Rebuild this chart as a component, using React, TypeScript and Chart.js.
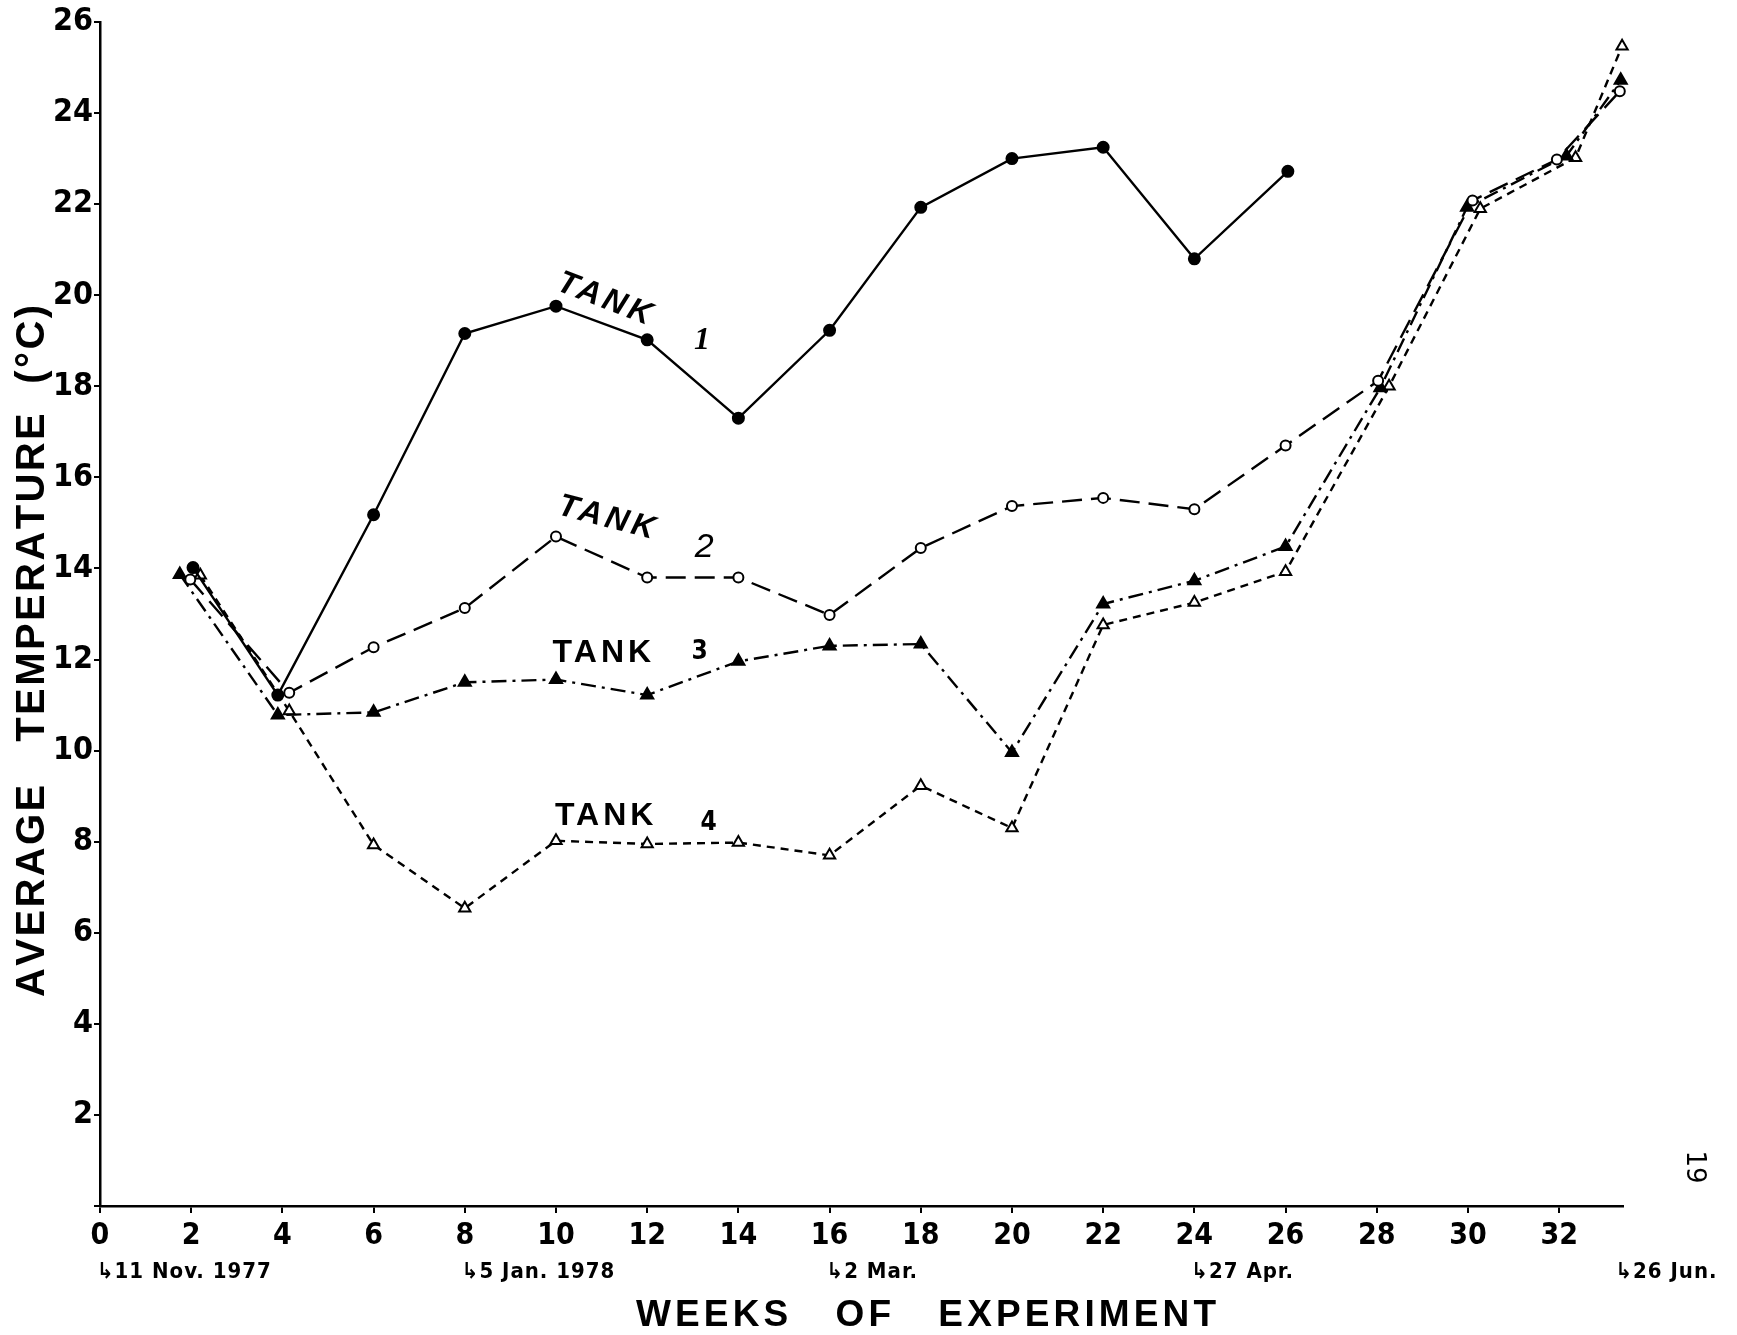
import { useEffect, useRef } from "react";
import { Chart, registerables } from "chart.js";

Chart.register(...registerables);

// Average water temperature (°C) per tank, by week of the experiment
const tank1Weeks = [2.04, 3.9, 6, 8, 10, 12, 14, 16, 18, 20, 22, 24, 26.05];
const tank1Temps = [14.02, 11.22, 15.18, 19.16, 19.76, 19.02, 17.3, 19.23, 21.93, 23.0, 23.25, 20.8, 22.72];

const tank2Weeks = [1.98, 4.15, 6, 8, 10, 12, 14, 16, 18, 20, 22, 24, 26, 28.03, 30.1, 31.95, 33.33];
const tank2Temps = [13.76, 11.27, 12.27, 13.13, 14.7, 13.8, 13.8, 12.98, 14.45, 15.37, 15.55, 15.3, 16.7, 18.12, 22.08, 22.98, 24.48];

const tank3Weeks = [1.75, 3.9, 6, 8, 10, 12, 14, 16, 18, 20, 22, 24, 26, 28.08, 29.98, 32.16, 33.35];
const tank3Temps = [13.87, 10.78, 10.84, 11.5, 11.56, 11.22, 11.96, 12.3, 12.34, 9.96, 13.22, 13.73, 14.48, 17.97, 21.93, 23.06, 24.72];

const tank4Weeks = [2.2, 4.15, 6, 8, 10, 12, 14, 16, 18, 20, 22, 24, 26, 28.27, 30.27, 32.36, 33.38];
const tank4Temps = [13.85, 10.87, 7.93, 6.54, 8.02, 7.95, 7.98, 7.7, 9.23, 8.3, 12.76, 13.25, 13.93, 18.0, 21.9, 23.02, 25.47];

// Axis ticks
const weekTicks = [0, 2, 4, 6, 8, 10, 12, 14, 16, 18, 20, 22, 24, 26, 28, 30, 32];
const weekMax = 33.4;
const tempMax = 26;
const tempStep = 2;

// Calendar dates under the week axis
const dateWeeks = [0, 8, 16, 24, 33.3];
const dateTexts = ["↳11 Nov. 1977", "↳5 Jan. 1978", "↳2 Mar.", "↳27 Apr.", "↳26 Jun."];

// Curve labels: [week, temp] anchor of the word, and of the tank number
const tankNames = ["1", "2", "3", "4"];
const tankWordAt = [[11.1, 19.9], [11.15, 15.1], [11.05, 12.15], [11.1, 8.55]];
const tankNumAt = [[13.2, 19.0], [13.25, 14.45], [13.15, 12.15], [13.35, 8.4]];
const tankAngles = [21, 14.5, 0, 0];

const W = 1737;
const H = 1335;

const narrowFamily = "'Liberation Sans Narrow', 'DejaVu Sans Condensed', 'Roboto Condensed', 'Liberation Sans', sans-serif";

const toXY = (xs: number[], ys: number[]) => xs.map((x, i) => ({ x, y: ys[i] }));

function drawFitted(ctx: CanvasRenderingContext2D, text: string, cx: number, cy: number, width: number) {
  const chars = [...text];
  const ws = chars.map((c) => ctx.measureText(c).width);
  const sum = ws.reduce((a, b) => a + b, 0);
  const gap = chars.length > 1 ? (width - sum) / (chars.length - 1) : 0;
  let x = cx - width / 2;
  ctx.textAlign = "left";
  chars.forEach((c, i) => {
    ctx.fillText(c, x, cy);
    x += ws[i] + gap;
  });
}

const annotations = {
  id: "annotations",
  afterDraw(chart: any) {
    const { ctx } = chart;
    const xs = chart.scales.x;
    const ys = chart.scales.y;
    ctx.save();
    ctx.fillStyle = "#000";
    ctx.textBaseline = "middle";

    // axis titles
    ctx.font = "bold 37px 'Liberation Sans', sans-serif";
    drawFitted(ctx, "WEEKS   OF   EXPERIMENT", 926, 1316, 580);

    ctx.save();
    ctx.translate(33, 651);
    ctx.rotate(-Math.PI / 2);
    ctx.font = "bold 40px 'Liberation Sans', sans-serif";
    drawFitted(ctx, "AVERAGE   TEMPERATURE  (°C)", 0, 0, 692);
    ctx.restore();

    // calendar dates
    ctx.font = "bold 22px " + narrowFamily;
    ctx.letterSpacing = "1px";
    ctx.textAlign = "left";
    dateWeeks.forEach((wk, i) => {
      ctx.fillText(dateTexts[i], xs.getPixelForValue(wk) - 3, xs.top + 66);
    });
    ctx.letterSpacing = "0px";

    // curve labels
    tankNames.forEach((name, i) => {
      const italic = tankAngles[i] !== 0;
      ctx.save();
      ctx.translate(xs.getPixelForValue(tankWordAt[i][0]), ys.getPixelForValue(tankWordAt[i][1]));
      ctx.rotate((tankAngles[i] * Math.PI) / 180);
      ctx.font = (italic ? "italic " : "") + "bold 32px 'Liberation Sans', sans-serif";
      ctx.letterSpacing = "4px";
      ctx.textAlign = "center";
      ctx.fillText("TANK", 0, 0);
      ctx.restore();

      ctx.save();
      ctx.translate(xs.getPixelForValue(tankNumAt[i][0]), ys.getPixelForValue(tankNumAt[i][1]));
      ctx.textAlign = "center";
      if (i === 0) ctx.font = "italic bold 32px 'Liberation Serif', serif";
      else if (i === 1) ctx.font = "italic 34px 'Liberation Sans', sans-serif";
      else ctx.font = "bold 26px " + narrowFamily;
      ctx.fillText(name, 0, 0);
      ctx.restore();
    });

    // page number
    ctx.save();
    ctx.translate(1694, 1167);
    ctx.rotate(Math.PI / 2);
    ctx.font = "26px 'DejaVu Sans', sans-serif";
    ctx.textAlign = "center";
    ctx.fillText("19", 0, 0);
    ctx.restore();

    ctx.restore();
  },
};

export default function App() {
  const canvasRef = useRef<HTMLCanvasElement | null>(null);

  useEffect(() => {
    document.body.style.margin = "0";
    document.body.style.overflow = "hidden";
    const canvas = canvasRef.current;
    if (!canvas) return;

    const common = {
      borderColor: "#000",
      pointBorderColor: "#000",
      borderWidth: 2.4,
      pointBorderWidth: 2,
      tension: 0,
      fill: false,
      clip: false as any,
    };

    const chart = new Chart(canvas, {
      type: "line",
      data: {
        datasets: [
          {
            ...common,
            label: "Tank 1",
            data: toXY(tank1Weeks, tank1Temps),
            pointStyle: "circle",
            pointRadius: 5.5,
            pointBackgroundColor: "#000",
          },
          {
            ...common,
            label: "Tank 2",
            data: toXY(tank2Weeks, tank2Temps),
            borderDash: [20, 9],
            pointStyle: "circle",
            pointRadius: 5,
            pointBackgroundColor: "#fff",
          },
          {
            ...common,
            label: "Tank 3",
            data: toXY(tank3Weeks, tank3Temps),
            borderDash: [15, 6, 3, 6],
            pointStyle: "triangle",
            pointRadius: 7,
            pointBackgroundColor: "#000",
          },
          {
            ...common,
            label: "Tank 4",
            data: toXY(tank4Weeks, tank4Temps),
            borderDash: [8, 6],
            pointStyle: "triangle",
            pointRadius: 6.5,
            pointBackgroundColor: "#fff",
          },
        ],
      },
      options: {
        responsive: false,
        devicePixelRatio: 1,
        animation: false,
        layout: { padding: { top: 22, right: W - 1623, bottom: 0, left: 0 } },
        plugins: {
          legend: { display: false },
          tooltip: { enabled: false },
        },
        scales: {
          x: {
            type: "linear",
            min: 0,
            max: weekMax,
            afterBuildTicks: (scale: any) => {
              scale.ticks = weekTicks.map((v) => ({ value: v }));
            },
            afterFit: (scale: any) => {
              scale.height = H - 1206;
            },
            border: { display: true, color: "#000", width: 2.5 },
            grid: {
              display: true,
              drawOnChartArea: false,
              drawTicks: true,
              tickLength: 7,
              color: "#000",
              lineWidth: 2,
            },
            ticks: {
              color: "#000",
              padding: 5,
              maxRotation: 0,
              autoSkip: false,
              font: { family: narrowFamily, size: 30, weight: "bold" },
              callback: (v: any) => String(v),
            },
          },
          y: {
            type: "linear",
            min: 0,
            max: tempMax,
            afterFit: (scale: any) => {
              scale.width = 100;
            },
            border: { display: true, color: "#000", width: 2.5 },
            grid: {
              display: true,
              drawOnChartArea: false,
              drawTicks: true,
              tickLength: 6,
              color: "#000",
              lineWidth: 2,
            },
            ticks: {
              stepSize: tempStep,
              color: "#000",
              padding: 1,
              font: { family: narrowFamily, size: 32, weight: "bold" },
              callback: (v: any) => (v === 0 ? "" : String(v)),
            },
          },
        },
      },
      plugins: [annotations],
    });

    return () => chart.destroy();
  }, []);

  return (
    <div style={{ position: "absolute", left: 0, top: 0, width: W, height: H, background: "#fff" }}>
      <canvas ref={canvasRef} width={W} height={H} style={{ display: "block" }} />
    </div>
  );
}
